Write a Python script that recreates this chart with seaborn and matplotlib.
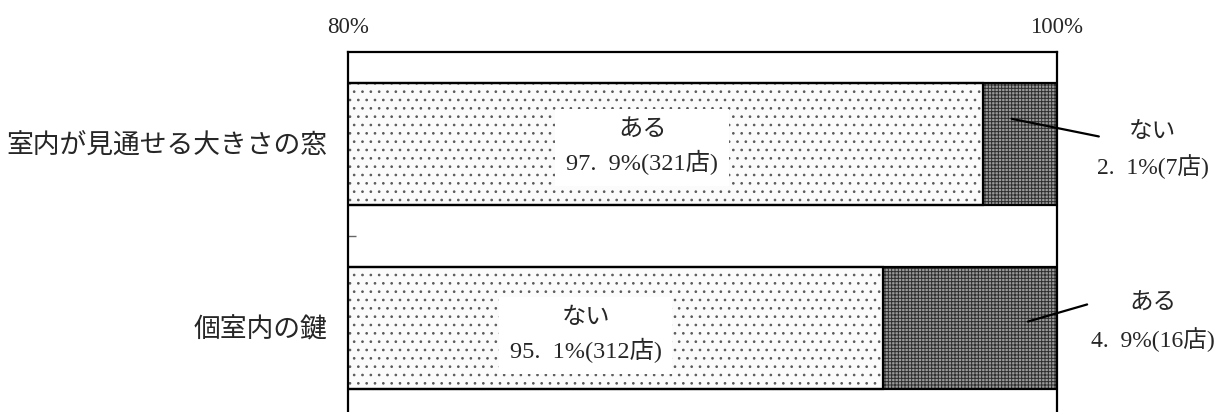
import numpy as np
import pandas as pd
import matplotlib
matplotlib.use('Agg')
from matplotlib import pyplot as plt
import seaborn as sns

sns.set_style('white')
plt.rcParams['font.family'] = ['Liberation Serif', 'Noto Sans CJK JP', 'DejaVu Sans']
plt.rcParams['hatch.linewidth'] = 0.7

# data
categories = ['室内が見通せる大きさの窓', '個室内の鍵']
first_pct = [97.9, 95.1]
second_pct = [2.1, 4.9]
first_name = ['ある', 'ない']
second_name = ['ない', 'ある']
first_count = [321, 312]
second_count = [7, 16]

df = pd.DataFrame({'cat': categories,
                   'first': first_pct,
                   'total': np.array(first_pct) + np.array(second_pct)})


def fmt(v):
    # period followed by a wide gap, as in the source document
    return str(v).replace('.', '.\u2002')


fig = plt.figure(figsize=(12.19, 4.12), dpi=100)
ax = fig.add_axes([348 / 1219, -8 / 412, 709 / 1219, 368 / 412])

bar_w = 0.658
sns.barplot(data=df, x='total', y='cat', orient='h', width=bar_w,
            color='#9a9a9a', ax=ax)
sns.barplot(data=df, x='first', y='cat', orient='h', width=bar_w,
            color='#fbfbfb', ax=ax)

n = len(categories)
for i, p in enumerate(ax.patches[:2 * n]):
    if i < n:
        p.set_hatch('+++++')
        p.set_edgecolor('#2e2e2e')
    else:
        p.set_hatch('..')
        p.set_edgecolor('#5a5a5a')
    p.set_linewidth(0)
    ax.add_patch(plt.Rectangle(p.get_xy(), p.get_width(), p.get_height(),
                               fill=False, ec='black', lw=1.6, zorder=3))

ax.set_xlim(80, 100)
ax.set_ylim(1.5, -0.5)
ax.set_xticks([80, 100])
ax.set_xticklabels(['80%', '100%'], fontsize=16.5)
ax.xaxis.tick_top()
ax.tick_params(axis='x', length=0, pad=10)
ax.tick_params(axis='y', which='major', length=0, pad=15, labelsize=19.3)
ax.set_yticks([0.5], minor=True)
ax.tick_params(axis='y', which='minor', direction='in', length=6,
               width=1, color='#666666', left=True)
ax.set_xlabel('')
ax.set_ylabel('')
for s in ax.spines.values():
    s.set_color('black')
    s.set_linewidth(1.6)
ax.spines['bottom'].set_visible(False)

# labels inside the big segment
inner_x = [88.3, 86.7]
inner_y = [0.02, 0.04]
for i in range(n):
    ax.text(inner_x[i], i + inner_y[i],
            '{}\n{}%({}店)'.format(first_name[i], fmt(first_pct[i]), first_count[i]),
            ha='center', va='center', fontsize=17.5, linespacing=1.45, zorder=5,
            bbox=dict(boxstyle='square,pad=0.45', fc='white', ec='none'))

# labels for the small segment with leader lines
outer_y = [0.035, -0.027]
line_from = [(98.72, -0.137), (99.18, -0.035)]
line_to = [(101.18, -0.041), (100.85, -0.128)]
for i in range(n):
    ax.text(102.7, i + outer_y[i],
            '{}\n{}%({}店)'.format(second_name[i], fmt(second_pct[i]), second_count[i]),
            ha='center', va='center', fontsize=17, linespacing=1.6,
            clip_on=False)
    ax.plot([line_from[i][0], line_to[i][0]],
            [i + line_from[i][1], i + line_to[i][1]],
            color='black', lw=1.6, clip_on=False, zorder=6)

fig.savefig('out.png', dpi=100)
